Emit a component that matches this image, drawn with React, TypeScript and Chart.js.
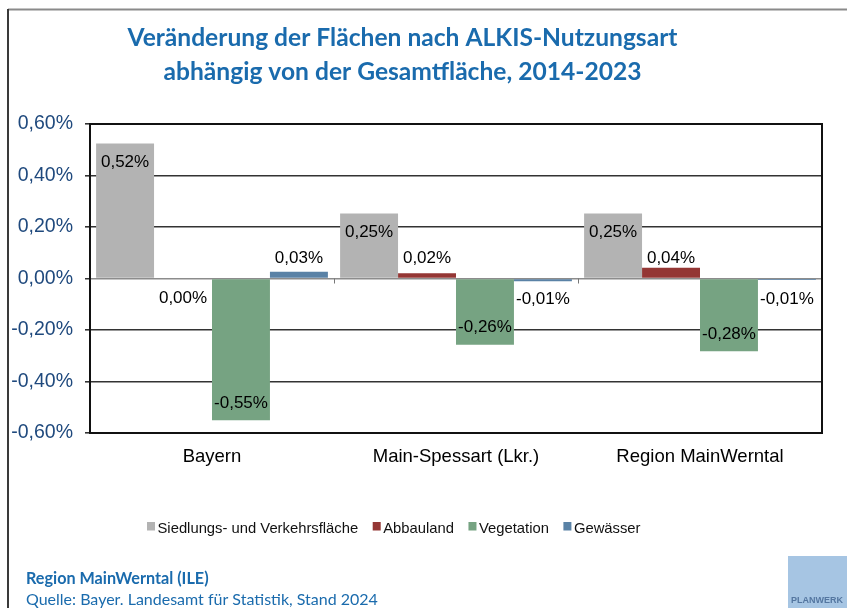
import React, { useEffect, useRef } from "react";
import { Chart, registerables } from "chart.js";

Chart.register(...registerables);

const categories = ["Bayern", "Main-Spessart (Lkr.)", "Region MainWerntal"];
const seriesNames = ["Siedlungs- und Verkehrsfläche", "Abbauland", "Vegetation", "Gewässer"];
const siedlung = [0.524, 0.252, 0.252];
const abbauland = [0, 0.02, 0.042];
const vegetation = [-0.55, -0.257, -0.283];
const gewaesser = [0.026, -0.011, -0.006];
const seriesColors = ["#B3B3B3", "#943634", "#76A382", "#5A82A6"];
const yMin = -0.6;
const yMax = 0.6;
const yStep = 0.2;
const titleLines = [
  "Veränderung der Flächen nach ALKIS-Nutzungsart",
  "abhängig von der Gesamtfläche, 2014-2023",
];
const footerBold = "Region MainWerntal (ILE)";
const footerSource = "Quelle: Bayer. Landesamt für Statistik, Stand 2024";
const logoText = "PLANWERK";

const BLUE = "#1A6BAD";

function fmt(v: number): string {
  const s = v.toFixed(2);
  const clean = s === "-0.00" ? "0.00" : s;
  return clean.replace(".", ",") + "%";
}

const decorPlugin = {
  id: "decor",
  afterDatasetsDraw(chart: any) {
    const ctx = chart.ctx;
    ctx.save();
    ctx.font = '17px "Liberation Sans", Arial, sans-serif';
    ctx.fillStyle = "#000";
    ctx.textAlign = "center";
    ctx.textBaseline = "middle";
    chart.data.datasets.forEach((ds: any, di: number) => {
      const meta = chart.getDatasetMeta(di);
      meta.data.forEach((bar: any, i: number) => {
        const v = ds.data[i];
        const h = Math.abs(bar.y - bar.base);
        let cy: number;
        if (h > 30) {
          cy = v > 0 ? bar.y + 19 : bar.y - 17;
        } else if (v > 0) {
          cy = Math.min(bar.y - 6, bar.base - 19);
        } else {
          cy = Math.max(bar.y + 18, bar.base + 20);
        }
        ctx.fillText(fmt(v), bar.x, cy);
      });
    });
    ctx.restore();
  },
  afterDraw(chart: any) {
    const ctx = chart.ctx;
    const { left, right, top, bottom } = chart.chartArea;
    const xs = chart.scales.x;
    const ys = chart.scales.y;
    ctx.save();

    // outer frame
    ctx.strokeStyle = "#8a8a8a";
    ctx.lineWidth = 2;
    ctx.beginPath();
    ctx.moveTo(8, 9.5);
    ctx.lineTo(847, 9.5);
    ctx.stroke();
    ctx.strokeStyle = "#3a3a3a";
    ctx.beginPath();
    ctx.moveTo(8, 9);
    ctx.lineTo(8, 608);
    ctx.stroke();

    // plot frame
    ctx.strokeStyle = "#111";
    ctx.lineWidth = 2;
    ctx.strokeRect(left, top, right - left, bottom - top);

    // category ticks on zero line
    const y0 = ys.getPixelForValue(0);
    ctx.strokeStyle = "#777";
    ctx.lineWidth = 1;
    for (let i = 1; i < categories.length; i++) {
      const x = Math.round((xs.getPixelForValue(i - 1) + xs.getPixelForValue(i)) / 2) + 0.5;
      ctx.beginPath();
      ctx.moveTo(x, y0);
      ctx.lineTo(x, y0 + 5);
      ctx.stroke();
    }

    // title
    ctx.fillStyle = BLUE;
    ctx.font = 'bold 24.6px Lato, "Open Sans", sans-serif';
    ctx.textAlign = "center";
    ctx.textBaseline = "middle";
    ctx.fillText(titleLines[0], 402.5, 38);
    ctx.fillText(titleLines[1], 402.5, 72);

    // legend
    ctx.font = '14.8px "Liberation Sans", Arial, sans-serif';
    ctx.textAlign = "left";
    ctx.textBaseline = "alphabetic";
    let lx = 147;
    chart.data.datasets.forEach((ds: any) => {
      ctx.fillStyle = ds.backgroundColor;
      ctx.fillRect(lx, 522, 8, 8.5);
      ctx.fillStyle = "#111";
      ctx.fillText(ds.label, lx + 10.5, 533);
      lx += 10.5 + ctx.measureText(ds.label).width + 14.5;
    });

    // footer
    ctx.fillStyle = BLUE;
    ctx.font = 'bold 16.2px Lato, sans-serif';
    ctx.fillText(footerBold, 26, 584);
    ctx.font = '16px Lato, sans-serif';
    ctx.fillText(footerSource, 26, 604.5);

    // logo
    ctx.fillStyle = "#A6C5E3";
    ctx.fillRect(788, 556, 59, 52);
    ctx.fillStyle = "#5476A0";
    ctx.font = 'bold 9px "Liberation Sans", Arial, sans-serif';
    ctx.textAlign = "center";
    ctx.fillText(logoText, 817, 603);

    ctx.restore();
  },
};

export default function App() {
  const ref = useRef<HTMLCanvasElement | null>(null);
  useEffect(() => {
    if (!ref.current) return;
    const seriesData = [siedlung, abbauland, vegetation, gewaesser];
    const chart = new Chart(ref.current, {
      type: "bar",
      data: {
        labels: categories,
        datasets: seriesData.map((d, i) => ({
          label: seriesNames[i],
          data: d,
          backgroundColor: seriesColors[i],
          borderWidth: 0,
          categoryPercentage: 0.95,
          barPercentage: 1,
        })),
      },
      options: {
        responsive: false,
        animation: false,
        devicePixelRatio: 1,
        layout: { padding: { left: 8, right: 25, top: 124, bottom: 135 } },
        plugins: {
          legend: { display: false },
          title: { display: false },
          tooltip: { enabled: false },
        },
        scales: {
          x: {
            type: "category",
            grid: { display: false, drawTicks: false },
            border: { display: false },
            ticks: {
              color: "#000",
              font: { family: '"Liberation Sans", Arial, sans-serif', size: 18.5 },
              padding: 13,
              maxRotation: 0,
            },
            afterFit: (s: any) => {
              s.height = 40;
            },
          },
          y: {
            min: yMin,
            max: yMax,
            ticks: {
              stepSize: yStep,
              color: "#1F497D",
              font: { family: '"Liberation Sans", Arial, sans-serif', size: 19.5 },
              padding: 12,
              callback: (v: any) => fmt(Number(v)),
            },
            grid: {
              color: (c: any) => (Math.abs(c.tick?.value ?? 1) < 1e-9 ? "#8c8c8c" : "#333"),
              lineWidth: (c: any) => (Math.abs(c.tick?.value ?? 1) < 1e-9 ? 1.5 : 1.6),
              drawTicks: true,
              tickLength: 5,
              tickColor: "#333",
            },
            border: { display: false },
            afterFit: (s: any) => {
              s.width = 82;
            },
          },
        },
      },
      plugins: [decorPlugin],
    });
    return () => chart.destroy();
  }, []);
  return (
    <div style={{ position: "absolute", left: 0, top: 0, width: 847, height: 608, background: "#fff" }}>
      <canvas ref={ref} width={847} height={608} style={{ display: "block" }} />
    </div>
  );
}
